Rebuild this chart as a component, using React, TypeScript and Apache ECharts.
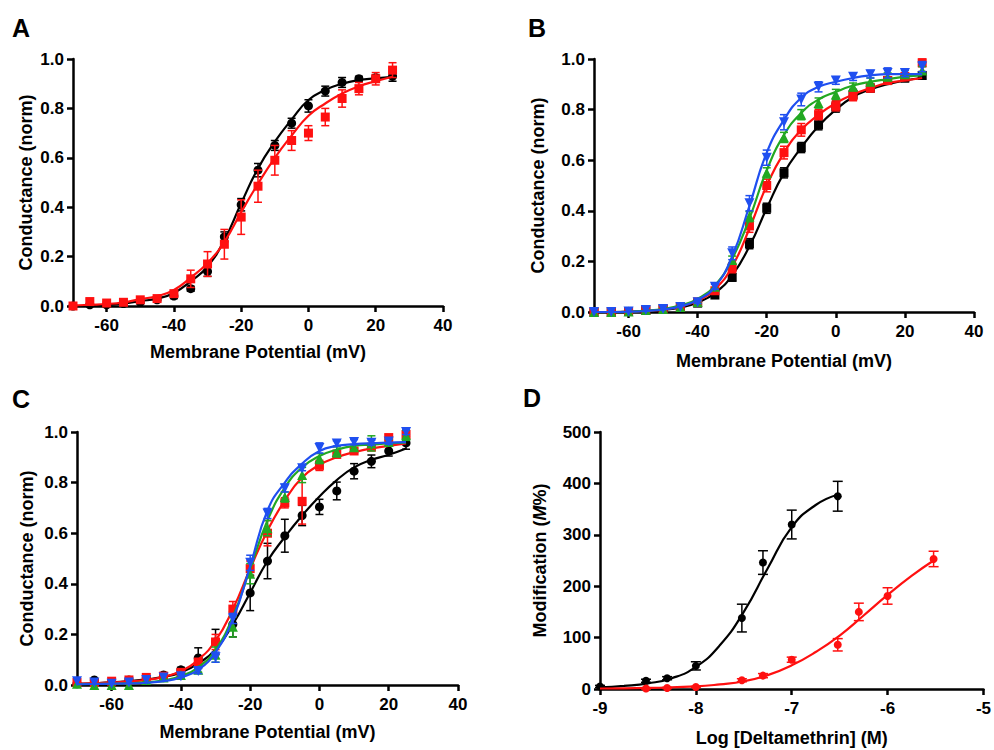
import React, { useEffect, useRef } from "react";
import * as echarts from "echarts";

const FONT = "'Liberation Sans', Arial, Helvetica, sans-serif";

// ---------- shared ----------
const voltages = [-70, -65, -60, -55, -50, -45, -40, -35, -30, -25, -20, -15, -10, -5, 0, 5, 10, 15, 20, 25];
const voltTicks = [-60, -40, -20, 0, 20, 40];

// ---------- panel A ----------
const aBlackMean = [0, 0.005, 0.005, 0.01, 0.015, 0.025, 0.04, 0.07, 0.14, 0.28, 0.41, 0.55, 0.65, 0.74, 0.81, 0.87, 0.905, 0.92, 0.925, 0.93];
const aBlackErr = [0, 0, 0, 0, 0.005, 0.005, 0.01, 0.01, 0.02, 0.02, 0.025, 0.027, 0.02, 0.02, 0.025, 0.02, 0.02, 0.01, 0.01, 0.02];
const aBlackCurve = [0, 0.001, 0.004, 0.01, 0.02, 0.03, 0.053, 0.1, 0.16, 0.267, 0.416, 0.557, 0.665, 0.755, 0.834, 0.875, 0.9, 0.915, 0.922, 0.928];
const aRedMean = [0, 0.018, 0.012, 0.015, 0.025, 0.03, 0.05, 0.11, 0.17, 0.25, 0.36, 0.485, 0.59, 0.67, 0.7, 0.765, 0.84, 0.88, 0.92, 0.955];
const aRedErr = [0, 0.01, 0.005, 0.005, 0.005, 0.005, 0.01, 0.035, 0.05, 0.06, 0.07, 0.065, 0.06, 0.04, 0.03, 0.035, 0.035, 0.025, 0.025, 0.03];
const aRedCurve = [0.002, 0.005, 0.008, 0.015, 0.028, 0.04, 0.065, 0.115, 0.174, 0.26, 0.38, 0.495, 0.6, 0.69, 0.77, 0.82, 0.86, 0.89, 0.91, 0.928];

// ---------- panel B ----------
const bBlackMean = [0, 0, 0.002, 0.008, 0.012, 0.02, 0.035, 0.067, 0.137, 0.27, 0.41, 0.55, 0.65, 0.74, 0.81, 0.86, 0.885, 0.915, 0.925, 0.935];
const bBlackErr = [0, 0, 0, 0, 0, 0, 0.005, 0.01, 0.015, 0.02, 0.02, 0.02, 0.02, 0.02, 0.02, 0.02, 0.015, 0.015, 0.015, 0.015];
const bBlackCurve = [0, 0, 0.001, 0.003, 0.008, 0.018, 0.038, 0.075, 0.145, 0.26, 0.41, 0.55, 0.65, 0.735, 0.8, 0.85, 0.88, 0.9, 0.915, 0.925];
const bRedMean = [0, 0, 0.002, 0.008, 0.012, 0.02, 0.04, 0.084, 0.175, 0.34, 0.5, 0.63, 0.72, 0.78, 0.815, 0.855, 0.885, 0.915, 0.93, 0.985];
const bRedErr = [0, 0, 0, 0, 0, 0, 0.005, 0.01, 0.02, 0.025, 0.025, 0.025, 0.025, 0.02, 0.02, 0.02, 0.015, 0.015, 0.015, 0.015];
const bRedCurve = [0, 0, 0.001, 0.004, 0.01, 0.022, 0.045, 0.09, 0.18, 0.33, 0.5, 0.63, 0.72, 0.78, 0.826, 0.86, 0.885, 0.905, 0.915, 0.925];
const bGreenMean = [0, 0, 0.002, 0.008, 0.012, 0.02, 0.04, 0.1, 0.206, 0.377, 0.55, 0.69, 0.78, 0.826, 0.86, 0.89, 0.91, 0.93, 0.94, 0.955];
const bGreenErr = [0, 0, 0, 0, 0, 0, 0.005, 0.01, 0.015, 0.02, 0.02, 0.02, 0.02, 0.02, 0.02, 0.015, 0.015, 0.015, 0.015, 0.015];
const bGreenCurve = [0, 0, 0.001, 0.005, 0.012, 0.026, 0.052, 0.105, 0.21, 0.37, 0.56, 0.7, 0.787, 0.84, 0.87, 0.895, 0.91, 0.92, 0.93, 0.935];
const bBlueMean = [0, 0, 0.002, 0.008, 0.012, 0.02, 0.039, 0.1, 0.232, 0.43, 0.61, 0.75, 0.84, 0.89, 0.915, 0.93, 0.94, 0.945, 0.945, 0.97];
const bBlueErr = [0, 0, 0, 0, 0, 0, 0.005, 0.01, 0.025, 0.03, 0.03, 0.03, 0.025, 0.02, 0.015, 0.015, 0.015, 0.02, 0.015, 0.02];
const bBlueCurve = [0, 0, 0.001, 0.004, 0.01, 0.022, 0.048, 0.1, 0.22, 0.42, 0.63, 0.76, 0.847, 0.89, 0.91, 0.925, 0.935, 0.94, 0.94, 0.94];

// ---------- panel C ----------
const cBlackMean = [0.005, 0.02, 0.01, 0.02, 0.03, 0.04, 0.06, 0.107, 0.17, 0.24, 0.364, 0.49, 0.59, 0.67, 0.704, 0.767, 0.845, 0.884, 0.925, 0.957];
const cBlackErr = [0, 0.005, 0, 0.005, 0.005, 0.005, 0.01, 0.04, 0.05, 0.05, 0.07, 0.07, 0.065, 0.04, 0.03, 0.035, 0.03, 0.025, 0.02, 0.025];
const cBlackCurve = [0.005, 0.007, 0.01, 0.015, 0.022, 0.032, 0.05, 0.085, 0.14, 0.24, 0.365, 0.49, 0.585, 0.67, 0.745, 0.81, 0.86, 0.89, 0.91, 0.935];
const cRedMean = [0.01, 0.01, 0.015, 0.02, 0.03, 0.035, 0.05, 0.09, 0.17, 0.3, 0.46, 0.6, 0.72, 0.726, 0.868, 0.912, 0.925, 0.94, 0.978, 0.99];
const cRedErr = [0, 0.005, 0.005, 0.005, 0.005, 0.005, 0.01, 0.015, 0.03, 0.03, 0.03, 0.05, 0.02, 0.09, 0.02, 0.015, 0.01, 0.01, 0.01, 0.02];
const cRedCurve = [0.005, 0.007, 0.01, 0.014, 0.02, 0.032, 0.055, 0.1, 0.175, 0.3, 0.46, 0.61, 0.73, 0.82, 0.87, 0.9, 0.92, 0.935, 0.945, 0.955];
const cGreenMean = [0.005, 0, 0, 0, 0.02, 0.03, 0.04, 0.06, 0.12, 0.23, 0.44, 0.62, 0.743, 0.83, 0.895, 0.921, 0.94, 0.955, 0.96, 0.987];
const cGreenErr = [0, 0, 0, 0, 0, 0, 0.005, 0.01, 0.03, 0.04, 0.04, 0.03, 0.02, 0.03, 0.02, 0.02, 0.01, 0.03, 0.01, 0.02];
const cGreenCurve = [0.003, 0.004, 0.005, 0.007, 0.01, 0.018, 0.035, 0.07, 0.14, 0.27, 0.46, 0.65, 0.78, 0.86, 0.905, 0.93, 0.945, 0.95, 0.955, 0.958];
const cBlueMean = [0.015, 0.01, 0.005, 0.01, 0.02, 0.03, 0.035, 0.055, 0.11, 0.263, 0.483, 0.678, 0.778, 0.857, 0.937, 0.955, 0.96, 0.958, 0.962, 1.0];
const cBlueErr = [0, 0, 0, 0, 0, 0, 0.005, 0.01, 0.02, 0.02, 0.03, 0.02, 0.015, 0.01, 0.02, 0.01, 0.01, 0.01, 0.01, 0.01];
const cBlueCurve = [0.003, 0.004, 0.005, 0.006, 0.009, 0.015, 0.03, 0.06, 0.13, 0.26, 0.47, 0.69, 0.8, 0.875, 0.925, 0.945, 0.952, 0.956, 0.958, 0.96];

// ---------- panel D ----------
const dBlackX = [-9, -8.52, -8.3, -8, -7.52, -7.3, -7, -6.52];
const dBlackY = [5, 16, 21, 45, 138, 246, 320, 375];
const dBlackErr = [2, 3, 3, 8, 27, 23, 28, 29];
const dBlackCurveX = [-9, -8.75, -8.5, -8.25, -8, -7.75, -7.5, -7.25, -7, -6.75, -6.52];
const dBlackCurveY = [3, 6, 11, 21, 43, 85, 150, 235, 315, 358, 378];
const dRedX = [-8.52, -8.3, -8, -7.52, -7.3, -7, -6.52, -6.3, -6, -5.52];
const dRedY = [1, 2, 4, 17, 26, 57, 86, 150, 181, 253];
const dRedErr = [1, 1, 1, 3, 4, 5, 12, 17, 16, 15];
const dRedCurveX = [-9, -8.5, -8, -7.75, -7.5, -7.25, -7, -6.75, -6.5, -6.25, -6, -5.75, -5.52];
const dRedCurveY = [1, 2, 5, 9, 15, 27, 46, 72, 104, 143, 183, 220, 250];

const BLACK = "#000000";
const RED = "#ff1010";
const GREEN = "#22a822";
const BLUE = "#1f4ff0";

type SetDef = {
  color: string;
  symbol: string;
  size: number;
  rotate?: number;
  x: number[];
  mean: number[];
  err: number[];
  cx: number[];
  cy: number[];
};

function errorBars(axis: number, s: SetDef, z: number, cap: number) {
  const data = s.x
    .map((v, i) => [v, s.mean[i] - s.err[i], s.mean[i] + s.err[i], s.err[i]])
    .filter((d) => d[3] > 0);
  return {
    type: "custom",
    xAxisIndex: axis,
    yAxisIndex: axis,
    z,
    silent: true,
    clip: false,
    encode: { x: 0, y: [1, 2] },
    data,
    renderItem: (_p: any, api: any) => {
      const x = api.value(0);
      const a = api.coord([x, api.value(2)]);
      const b = api.coord([x, api.value(1)]);
      const st = { stroke: s.color, lineWidth: 1.5 };
      return {
        type: "group",
        children: [
          { type: "line", shape: { x1: a[0], y1: a[1], x2: b[0], y2: b[1] }, style: st },
          { type: "line", shape: { x1: a[0] - cap, y1: a[1], x2: a[0] + cap, y2: a[1] }, style: st },
          { type: "line", shape: { x1: b[0] - cap, y1: b[1], x2: b[0] + cap, y2: b[1] }, style: st },
        ],
      };
    },
  };
}

function setSeries(axis: number, s: SetDef, z: number, cap: number) {
  return [
    errorBars(axis, s, z, cap),
    {
      type: "line",
      xAxisIndex: axis,
      yAxisIndex: axis,
      z,
      silent: true,
      showSymbol: false,
      smooth: 0.5,
      clip: false,
      lineStyle: { color: s.color, width: 2.2 },
      data: s.cx.map((v, i) => [v, s.cy[i]]),
    },
    {
      type: "scatter",
      xAxisIndex: axis,
      yAxisIndex: axis,
      z,
      silent: true,
      clip: false,
      symbol: s.symbol,
      symbolSize: s.size,
      symbolRotate: s.rotate || 0,
      itemStyle: { color: s.color, opacity: 1 },
      data: s.x.map((v, i) => [v, s.mean[i]]),
    },
  ];
}

const labelStyle = { color: "#000", fontFamily: FONT, fontWeight: "bold" as const, fontSize: 17 };
const nameStyle = { color: "#000", fontFamily: FONT, fontWeight: "bold" as const, fontSize: 18 };
const lineSt = { show: true, onZero: false, lineStyle: { color: "#000", width: 2.5 } };
const tickSt = { show: true, length: 6, lineStyle: { color: "#000", width: 2.5 } };

function voltX(grid: number, gap: number) {
  return {
    type: "value",
    gridIndex: grid,
    min: -70,
    max: 40,
    name: "Membrane Potential (mV)",
    nameLocation: "middle",
    nameGap: gap,
    nameTextStyle: nameStyle,
    axisLine: lineSt,
    axisTick: { ...tickSt, customValues: voltTicks },
    axisLabel: { ...labelStyle, margin: 11, customValues: voltTicks, formatter: (v: number) => String(v) },
    splitLine: { show: false },
  };
}

function condY(grid: number, gap: number) {
  return {
    type: "value",
    gridIndex: grid,
    min: 0,
    max: 1,
    interval: 0.2,
    name: "Conductance (norm)",
    nameLocation: "middle",
    nameGap: gap,
    nameTextStyle: nameStyle,
    axisLine: lineSt,
    axisTick: tickSt,
    axisLabel: { ...labelStyle, margin: 9, formatter: (v: number) => v.toFixed(1) },
    splitLine: { show: false },
  };
}

function mk(color: string, symbol: string, size: number, mean: number[], err: number[], curve: number[], rotate?: number): SetDef {
  return { color, symbol, size, rotate, x: voltages, mean, err, cx: voltages, cy: curve };
}

export default function App() {
  const ref = useRef<HTMLDivElement>(null);
  useEffect(() => {
    if (!ref.current) return;
    const chart = echarts.init(ref.current, undefined, { renderer: "svg" });

    const setsA = [
      mk(BLACK, "circle", 9, aBlackMean, aBlackErr, aBlackCurve),
      mk(RED, "rect", 9, aRedMean, aRedErr, aRedCurve),
    ];
    const setsB = [
      mk(BLACK, "rect", 9, bBlackMean, bBlackErr, bBlackCurve),
      mk(RED, "rect", 9, bRedMean, bRedErr, bRedCurve),
      mk(GREEN, "triangle", 10, bGreenMean, bGreenErr, bGreenCurve),
      mk(BLUE, "triangle", 10, bBlueMean, bBlueErr, bBlueCurve, 180),
    ];
    const setsC = [
      mk(BLACK, "circle", 9, cBlackMean, cBlackErr, cBlackCurve),
      mk(RED, "rect", 9, cRedMean, cRedErr, cRedCurve),
      mk(GREEN, "triangle", 10, cGreenMean, cGreenErr, cGreenCurve),
      mk(BLUE, "triangle", 10, cBlueMean, cBlueErr, cBlueCurve, 180),
    ];
    const setsD: SetDef[] = [
      { color: BLACK, symbol: "circle", size: 8, x: dBlackX, mean: dBlackY, err: dBlackErr, cx: dBlackCurveX, cy: dBlackCurveY },
      { color: RED, symbol: "circle", size: 8, x: dRedX, mean: dRedY, err: dRedErr, cx: dRedCurveX, cy: dRedCurveY },
    ];

    const series: any[] = [];
    setsA.forEach((s, i) => series.push(...setSeries(0, s, 10 + i, 4)));
    setsB.forEach((s, i) => series.push(...setSeries(1, s, 10 + i, 4)));
    setsC.forEach((s, i) => series.push(...setSeries(2, s, 10 + i, 4)));
    setsD.forEach((s, i) => series.push(...setSeries(3, s, 10 + i, 5)));

    const letter = (t: string, x: number, y: number) => ({
      type: "text",
      x,
      y,
      style: { text: t, font: `bold 25px ${FONT}`, fill: "#000", verticalAlign: "middle", align: "left" },
    });

    chart.setOption({
      animation: false,
      backgroundColor: "#ffffff",
      grid: [
        { left: 73, top: 59, width: 370, height: 247 },
        { left: 594, top: 59, width: 380, height: 253 },
        { left: 77, top: 432, width: 381, height: 253 },
        { left: 600, top: 432, width: 385, height: 257 },
      ],
      xAxis: [
        voltX(0, 37),
        voltX(1, 40),
        voltX(2, 38),
        {
          type: "value",
          gridIndex: 3,
          min: -9,
          max: -5,
          interval: 1,
          name: "Log [Deltamethrin] (M)",
          nameLocation: "middle",
          nameGap: 40,
          nameTextStyle: nameStyle,
          axisLine: lineSt,
          axisTick: tickSt,
          axisLabel: { ...labelStyle, margin: 11 },
          splitLine: { show: false },
        },
      ],
      yAxis: [
        condY(0, 38),
        condY(1, 47),
        condY(2, 41),
        {
          type: "value",
          gridIndex: 3,
          min: 0,
          max: 500,
          interval: 100,
          name: "{a|Modification (}{b|M}{a|%)}",
          nameLocation: "middle",
          nameGap: 51,
          nameTextStyle: {
            ...nameStyle,
            rich: {
              a: { fontFamily: FONT, fontWeight: "bold", fontSize: 18, color: "#000" },
              b: { fontFamily: FONT, fontWeight: "bold", fontStyle: "italic", fontSize: 18, color: "#000" },
            },
          },
          axisLine: lineSt,
          axisTick: tickSt,
          axisLabel: { ...labelStyle, margin: 9 },
          splitLine: { show: false },
        },
      ],
      graphic: [letter("A", 12, 28), letter("B", 528, 28), letter("C", 12, 399), letter("D", 523, 398)],
      series,
    });
    return () => chart.dispose();
  }, []);
  return <div ref={ref} style={{ position: "absolute", left: 0, top: 0, width: 994, height: 750, background: "#fff" }} />;
}
